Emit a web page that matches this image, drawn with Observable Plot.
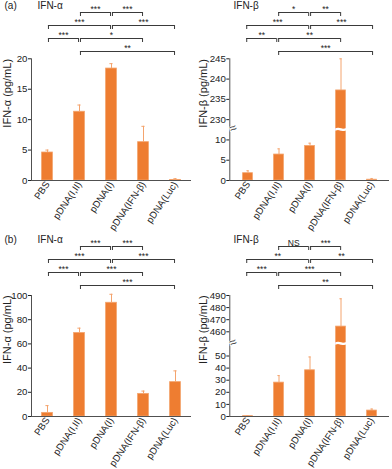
<!DOCTYPE html>
<html><head><meta charset="utf-8">
<script src="https://cdn.jsdelivr.net/npm/d3@7"></script>
<script src="https://cdn.jsdelivr.net/npm/@observablehq/plot@0.6"></script>
<style>
body{margin:0;background:#fff}
#root{position:relative;width:392px;height:469px;font-family:"Liberation Sans",Arial,sans-serif;overflow:hidden}
.panel{position:absolute;width:196px;height:235px}
.panel svg{position:absolute;left:0;overflow:visible}
</style></head><body><div id="root"></div>
<script>
// Categories
const groups = ["PBS", "pDNA(I,II)", "pDNA(I)", "pDNA(IFN-β)", "pDNA(Luc)"];

// (a) IFN-α (pg/mL)
const alphaA = [4.6, 11.3, 18.4, 6.3, 0.1];
const alphaAErr = [0.4, 1.1, 0.8, 2.6, 0.2];
// (a) IFN-β (pg/mL)
const betaA = [1.8, 6.4, 8.5, 237.2, 0.2];
const betaAErr = [0.6, 1.4, 0.7, 7.8, 0.3];
// (b) IFN-α (pg/mL)
const alphaB = [3.0, 69, 94, 18.7, 28.4];
const alphaBErr = [6, 4, 7, 2.3, 9.3];
// (b) IFN-β (pg/mL)
const betaB = [0.3, 28, 38.2, 464.3, 4.9];
const betaBErr = [0.5, 5.8, 11, 23, 1.3];

// Significance brackets: [from, to, row]
const pairs = [
  ["pDNA(I,II)", "pDNA(I)", 1], ["pDNA(I)", "pDNA(IFN-β)", 1],
  ["PBS", "pDNA(I)", 2], ["pDNA(I)", "pDNA(Luc)", 2],
  ["PBS", "pDNA(I,II)", 3], ["pDNA(I,II)", "pDNA(IFN-β)", 3],
  ["pDNA(I,II)", "pDNA(Luc)", 4]
];
const sigAlphaA = ["***", "***", "***", "***", "***", "*", "**"];
const sigBetaA = ["*", "**", "***", "***", "**", "**", "***"];
const sigAlphaB = ["***", "***", "***", "***", "***", "***", "***"];
const sigBetaB = ["NS", "***", "**", "**", "***", "***", "**"];

// y ticks (as labelled on the axes)
const ticksAlphaA = [0, 5, 10, 15, 20];
const ticksBetaA = [0, 5, 10, 230, 235, 240, 245];
const ticksAlphaB = [0, 20, 40, 60, 80, 100];
const ticksBetaB = [0, 10, 20, 30, 40, 50, 460, 470, 480, 490];

// broken axes: [lower segment top, upper segment bottom, gap (in lower units)]
const breakBetaA = [10, 230, 5];
const breakBetaB = [50, 460, 20];

const BAR = "#ee7d31", BAR_EDGE = "#f3a36c", ERR = "#f4a46e", AX = "#505050", INK = "#222";
const W = 196, T = 50, H = 185;

function brokenAxis([lo, hi, gap]) {
  const f = v => v <= lo ? v : v >= hi ? v - hi + lo + gap : lo + (v - lo) * gap / (hi - lo);
  const inv = t => t <= lo ? t : t - lo - gap + hi;
  return {f, inv};
}

function panel(o) {
  const div = document.createElement("div");
  div.className = "panel";
  div.style.left = o.left + "px";
  div.style.top = o.top + "px";
  const data = groups.map((g, i) => ({g, v: o.values[i], e: o.errs[i]}));
  const br = pairs.map((p, i) => ({a: groups.indexOf(p[0]), b: groups.indexOf(p[1]), level: p[2], label: o.labels[i]}));
  const gap = 0.03;
  const style = {background: "transparent", overflow: "visible", fontFamily: "Liberation Sans, Arial, sans-serif", color: INK};

  const top = Plot.plot({
    width: W, height: 60, marginLeft: o.ml, marginRight: o.mr, marginTop: 0, marginBottom: 0,
    style,
    x: {type: "linear", domain: [-0.5, 4.5], axis: null},
    y: {type: "linear", domain: [1, 4], range: [12, 51], axis: null},
    marks: [
      Plot.ruleY(br, {y: "level", x1: d => d.a + gap, x2: d => d.b - gap, stroke: "#3a3a3a", strokeWidth: 1}),
      Plot.ruleX(br, {x: d => d.a + gap, y1: "level", y2: "level", insetBottom: -4, stroke: "#3a3a3a"}),
      Plot.ruleX(br, {x: d => d.b - gap, y1: "level", y2: "level", insetBottom: -4, stroke: "#3a3a3a"}),
      Plot.text(br, {x: d => (d.a + d.b) / 2, y: "level", text: "label", lineAnchor: "bottom", dy: -0.5, fontSize: 8.5, fill: INK}),
      o.tag ? Plot.text([o.tag], {frameAnchor: "top-left", text: d => d, textAnchor: "start", lineAnchor: "top", dx: 4 - o.ml, dy: 1, fontSize: 10, fill: INK}) : null,
      Plot.text([o.title], {frameAnchor: "top-left", text: d => d, textAnchor: "start", lineAnchor: "top", dx: 37 - o.ml, dy: 1, fontSize: 10, fill: INK})
    ]
  });
  top.style.top = "0px";

  const brk = o.brk ? brokenAxis(o.brk) : {f: v => v, inv: t => t};
  const tickVals = o.ticks.map(brk.f);
  const yOpts = {
    domain: [0, brk.f(o.ticks[o.ticks.length - 1])],
    transform: o.brk ? brk.f : undefined,
    ticks: tickVals, tickFormat: t => String(Math.round(brk.inv(t))),
    tickSize: 3, tickPadding: 1, label: null
  };
  const marks = [
    Plot.barY(data, {x: "g", y: "v", fill: BAR, stroke: BAR_EDGE, strokeWidth: 0.8, insetLeft: 10.6, insetRight: 10.6}),
    Plot.ruleX(data, {x: "g", y1: "v", y2: d => d.v + d.e, stroke: ERR, strokeWidth: 1}),
    Plot.tickY(data, {x: "g", y: d => d.v + d.e, stroke: ERR, strokeWidth: 1, insetLeft: 14.4, insetRight: 14.4}),
    Plot.ruleY([0], {stroke: AX}),
    Plot.frame({anchor: "left", stroke: AX}),
    Plot.text([o.ylabel], {frameAnchor: "left", text: d => d, rotate: -90, dx: o.lx - o.ml, dy: 8, fontSize: 11, fill: INK})
  ];
  if (o.brk) {
    const mid = (o.brk[0] + o.brk[1]) / 2;
    marks.push(Plot.text([mid], {y: d => d, frameAnchor: "left", text: () => "≈", rotate: -25, fontSize: 13, fill: AX, stroke: "white", strokeWidth: 1.5, paintOrder: "stroke"}));
    marks.push(Plot.text([{g: "pDNA(IFN-β)", y: mid}], {x: "g", y: "y", text: () => "~", fontSize: 22, fill: "white", fontWeight: "bold"}));
  }
  const bars = Plot.plot({
    width: W, height: H, marginLeft: o.ml, marginRight: o.mr, marginTop: o.mt, marginBottom: o.mb,
    style: {...style, fontSize: "9.7px"},
    x: {type: "band", domain: groups, padding: 0, label: null, tickRotate: -56, tickSize: 0, tickPadding: 2},
    y: yOpts,
    marks
  });
  bars.style.top = T + "px";
  div.appendChild(top);
  div.appendChild(bars);
  document.getElementById("root").appendChild(div);
}

panel({left: 0, top: 0, tag: "(a)", title: "IFN-α", values: alphaA, errs: alphaAErr, labels: sigAlphaA,
  ticks: ticksAlphaA, ml: 31, mr: 5, mt: 8.3, mb: 55, lx: 7, ylabel: "IFN-α (pg/mL)"});
panel({left: 196, top: 0, title: "IFN-β", values: betaA, errs: betaAErr, labels: sigBetaA,
  ticks: ticksBetaA, brk: breakBetaA, ml: 33.3, mr: 3, mt: 8.3, mb: 55, lx: 6.5, ylabel: "IFN-β (pg/mL)"});
panel({left: 0, top: 234, tag: "(b)", title: "IFN-α", values: alphaB, errs: alphaBErr, labels: sigAlphaB,
  ticks: ticksAlphaB, ml: 31, mr: 5, mt: 11, mb: 53, lx: 7, ylabel: "IFN-α (pg/mL)"});
panel({left: 196, top: 234, title: "IFN-β", values: betaB, errs: betaBErr, labels: sigBetaB,
  ticks: ticksBetaB, brk: breakBetaB, ml: 33.3, mr: 3, mt: 11, mb: 53, lx: 6.5, ylabel: "IFN-β (pg/mL)"});
</script></body></html>
